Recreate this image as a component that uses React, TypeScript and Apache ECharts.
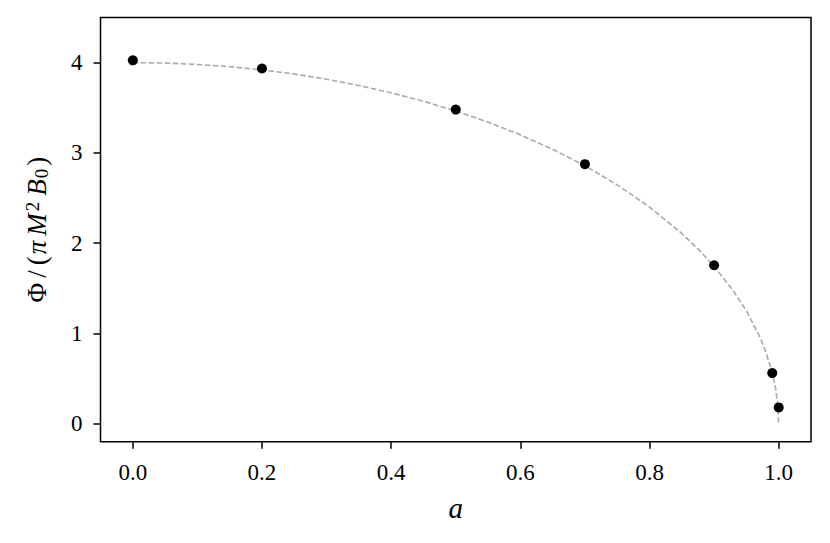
import React, { useEffect, useRef } from "react";
import * as echarts from "echarts";

// Simulation points (spin a, flux)
const spinValues = [0, 0.2, 0.5, 0.7, 0.9, 0.99, 1.0];
const fluxValues = [4.025, 3.935, 3.48, 2.875, 1.755, 0.56, 0.18];

// Dashed reference curve
const curveSpin = [0, 0.05, 0.1, 0.15, 0.2, 0.25, 0.3, 0.35, 0.4, 0.45, 0.5, 0.55, 0.6, 0.65, 0.7, 0.75, 0.8, 0.85, 0.875, 0.9, 0.93, 0.95, 0.97, 0.98, 0.99, 0.995, 0.999, 1.0];
const curveFlux = [4.0, 3.995, 3.98, 3.955, 3.92, 3.873, 3.816, 3.747, 3.666, 3.572, 3.464, 3.341, 3.2, 3.04, 2.857, 2.646, 2.4, 2.107, 1.936, 1.744, 1.47, 1.249, 0.973, 0.796, 0.564, 0.4, 0.179, 0];

const xTicks = [0, 0.2, 0.4, 0.6, 0.8, 1.0];
const yTicks = [0, 1, 2, 3, 4];

const FONT = "'Liberation Serif', 'DejaVu Serif', serif";

export default function App() {
  const ref = useRef<HTMLDivElement>(null);
  useEffect(() => {
    if (!ref.current) return;
    const chart = echarts.init(ref.current, null, { renderer: "svg" });
    const base = { fontFamily: FONT, fontSize: 27, color: "#000" };
    const ital = { ...base, fontStyle: "italic" };
    chart.setOption({
      animation: false,
      backgroundColor: "#fff",
      grid: {
        left: 100.5,
        top: 17.5,
        right: 19,
        bottom: 101.3,
        show: true,
        borderColor: "#000",
        borderWidth: 1.5,
        backgroundColor: "transparent",
      },
      xAxis: {
        type: "value",
        min: -0.05,
        max: 1.05,
        name: "a",
        nameLocation: "middle",
        nameGap: 52,
        nameTextStyle: { fontFamily: FONT, fontStyle: "italic", fontSize: 29, color: "#000" },
        axisLine: { show: false, onZero: false },
        splitLine: { show: false },
        axisTick: { show: true, inside: false, length: 7, customValues: xTicks, lineStyle: { color: "#000", width: 1.5 } },
        axisLabel: {
          customValues: xTicks,
          formatter: (v: number) => v.toFixed(1),
          fontFamily: FONT,
          fontSize: 23,
          color: "#000",
          margin: 19,
        },
      },
      yAxis: {
        type: "value",
        min: -0.2,
        max: 4.5,
        name: "{phi|Φ}{sl|/}{lp|(}{pi|π}{m|M}{sup|2}{b|B}{sub|0}{rp|)}",
        nameLocation: "middle",
        nameGap: 50,
        nameRotate: 90,
        nameTextStyle: {
          ...base,
          rich: {
            phi: { ...base, padding: [0, 5, 0, 0] },
            sl: { ...base, padding: [0, 5, 0, 0] },
            lp: { ...base, padding: [0, 2, 0, 0] },
            pi: { ...ital, padding: [0, 5, 0, 0] },
            m: { ...ital, padding: [0, 2, 0, 0] },
            sup: { fontFamily: FONT, fontSize: 19, color: "#000", verticalAlign: "top", padding: [0, 6, 9, 0] },
            b: { ...ital, padding: [0, 1, 0, 0] },
            sub: { fontFamily: FONT, fontSize: 19, color: "#000", verticalAlign: "bottom", padding: [9, 3, 0, 0] },
            rp: { ...base },
          },
        },
        axisLine: { show: false, onZero: false },
        splitLine: { show: false },
        axisTick: { show: true, inside: false, length: 7, customValues: yTicks, lineStyle: { color: "#000", width: 1.5 } },
        axisLabel: {
          customValues: yTicks,
          formatter: (v: number) => String(v),
          fontFamily: FONT,
          fontSize: 23,
          color: "#000",
          margin: 18,
        },
      },
      series: [
        {
          type: "line",
          data: curveSpin.map((a, i) => [a, curveFlux[i]]),
          showSymbol: false,
          symbol: "none",
          lineStyle: { color: "#aaaaaa", width: 1.6, type: [5.5, 2.5] },
          z: 1,
        },
        {
          type: "scatter",
          data: spinValues.map((a, i) => [a, fluxValues[i]]),
          symbol: "circle",
          symbolSize: 10,
          itemStyle: { color: "#000", opacity: 1 },
          z: 2,
        },
      ],
    });
    return () => chart.dispose();
  }, []);
  return <div ref={ref} style={{ width: 830, height: 543, position: "absolute", left: 0, top: 0 }} />;
}
